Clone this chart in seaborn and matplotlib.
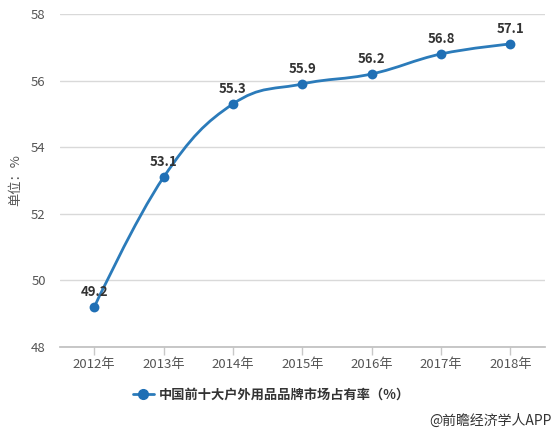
import numpy as np
import pandas as pd
import matplotlib
matplotlib.use("Agg")
import matplotlib.pyplot as plt
from matplotlib.path import Path
from matplotlib.patches import PathPatch
from matplotlib.lines import Line2D
import seaborn as sns

# data
years = ["2012年", "2013年", "2014年", "2015年", "2016年", "2017年", "2018年"]
share = [49.2, 53.1, 55.3, 55.9, 56.2, 56.8, 57.1]
series_name = "中国前十大户外用品品牌市场占有率（%）"

sns.set_theme(style="white")
plt.rcParams['font.family'] = ['Noto Sans CJK SC', 'DejaVu Sans']

line_color = "#2b7bba"
dot_color = "#1f6fb5"

df = pd.DataFrame({"year": years, "share": share})
df["x"] = np.arange(len(df))

fig = plt.figure(figsize=(5.54, 4.30), dpi=100)
ax = fig.add_axes([0.1076, 0.193, 0.8762, 0.7744])


def spline_path(xs, ys, smoothing=1.5):
    # highcharts-like spline: bezier control points from neighbours
    n = len(xs)
    lc = [None] * n
    rc = [None] * n
    denom = smoothing + 1
    for i in range(1, n - 1):
        lx = (smoothing * xs[i] + xs[i - 1]) / denom
        ly = (smoothing * ys[i] + ys[i - 1]) / denom
        rx = (smoothing * xs[i] + xs[i + 1]) / denom
        ry = (smoothing * ys[i] + ys[i + 1]) / denom
        if rx != lx:
            corr = (ry - ly) * (rx - xs[i]) / (rx - lx) + ys[i] - ry
            ly += corr
            ry += corr
        if ly > max(ys[i - 1], ys[i]):
            ly = max(ys[i - 1], ys[i])
            ry = 2 * ys[i] - ly
        elif ly < min(ys[i - 1], ys[i]):
            ly = min(ys[i - 1], ys[i])
            ry = 2 * ys[i] - ly
        if ry > max(ys[i + 1], ys[i]):
            ry = max(ys[i + 1], ys[i])
            ly = 2 * ys[i] - ry
        elif ry < min(ys[i + 1], ys[i]):
            ry = min(ys[i + 1], ys[i])
            ly = 2 * ys[i] - ry
        lc[i] = (lx, ly)
        rc[i] = (rx, ry)
    verts = [(xs[0], ys[0])]
    codes = [Path.MOVETO]
    for i in range(1, n):
        c1 = rc[i - 1] if rc[i - 1] is not None else (xs[i - 1], ys[i - 1])
        c2 = lc[i] if lc[i] is not None else (xs[i], ys[i])
        verts += [c1, c2, (xs[i], ys[i])]
        codes += [Path.CURVE4] * 3
    return Path(verts, codes)


path = spline_path(df["x"].tolist(), df["share"].tolist())
ax.add_patch(PathPatch(path, facecolor="none", edgecolor=line_color, lw=2, zorder=3))

sns.scatterplot(data=df, x="x", y="share", ax=ax, color=dot_color, s=50,
                edgecolor=dot_color, linewidth=0, zorder=4, legend=False)

for xi, yi in zip(df["x"], df["share"]):
    ax.annotate(f"{yi}", (xi, yi), xytext=(0, 6), textcoords="offset points",
                ha="center", va="bottom", fontsize=9.5, fontweight="bold", color="#333333")

ax.set_xlim(-0.5, len(years) - 0.5)
ax.set_ylim(48, 58)
ax.set_yticks(range(48, 59, 2))
ax.set_xticks(df["x"])
ax.set_xticklabels(years)
ax.tick_params(axis="x", colors="#555555", labelsize=9.5, length=6, width=1,
               direction="out", bottom=True, pad=2)
ax.tick_params(axis="x", color="#c8c8c8")
ax.tick_params(axis="y", colors="#555555", labelsize=9.5, length=0, pad=10)
ax.grid(axis="y", color="#d9d9d9", lw=1)
ax.set_axisbelow(True)
for s in ["top", "right", "left"]:
    ax.spines[s].set_visible(False)
ax.spines["bottom"].set_color("#c0c0c0")
ax.set_xlabel("")
ax.set_ylabel("单位：%", color="#555555", fontsize=9.5, labelpad=6)

handle = Line2D([], [], color=line_color, lw=2, marker="o", markersize=7,
                markerfacecolor=dot_color, markeredgecolor=dot_color)
fig.legend([handle], [series_name], loc="center", bbox_to_anchor=(0.49, 0.082),
           frameon=False, handlelength=1.6, handletextpad=0.4,
           prop={"family": ["Noto Sans CJK SC", "DejaVu Sans"], "size": 9.5, "weight": "bold"},
           labelcolor="#333333")

fig.text(0.995, 0.022, "@前瞻经济学人APP", ha="right", va="center", fontsize=10, color="#333333")

fig.savefig("out.png", dpi=100)
